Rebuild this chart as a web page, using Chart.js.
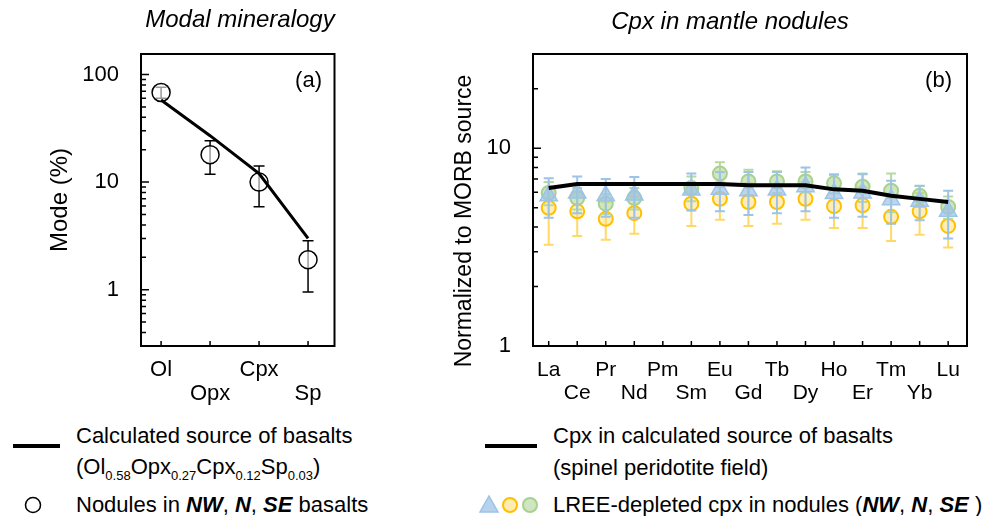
<!DOCTYPE html>
<html>
<head>
<meta charset="utf-8">
<script src="https://cdn.jsdelivr.net/npm/chart.js@4.4.1/dist/chart.umd.min.js"></script>
<style>
  body { margin: 0; background: #fff; }
  #wrap { position: relative; width: 1007px; height: 516px; font-family: "Liberation Sans", Arial, sans-serif; color: #000; }
  canvas { position: absolute; top: 0; }
  .txt { position: absolute; white-space: nowrap; font-size: 22px; line-height: 26px; }
  .title { position: absolute; font-size: 24px; font-style: italic; text-align: center; line-height: 26px; }
  .ytitle { position: absolute; width: 300px; text-align: center; font-size: 23px; line-height: 26px; transform: rotate(-90deg); }
  .sub { font-size: 13px; vertical-align: -6px; }
  .swatch { position: absolute; }
</style>
</head>
<body>
<div id="wrap">
  <canvas id="modeChart" width="345" height="410" style="left:0"></canvas>
  <canvas id="cpxChart" width="607" height="410" style="left:400px"></canvas>

  <div class="title" style="left:90px;top:6px;width:300px">Modal mineralogy</div>
  <div class="title" style="left:580px;top:8px;width:300px">Cpx in mantle nodules</div>
  <div class="ytitle" style="left:313px;top:208px">Normalized to MORB source</div>
  <div class="txt" style="left:262px;top:67px;width:60px;text-align:right">(a)</div>
  <div class="txt" style="left:892px;top:67px;width:60px;text-align:right">(b)</div>

  <!-- legend, left panel -->
  <div class="swatch" style="left:13px;top:444px;width:47px;height:4px;background:#000"></div>
  <div class="txt" style="left:76px;top:423px">Calculated source of basalts</div>
  <div class="txt" style="left:76px;top:454px">(Ol<span class="sub">0.58</span>Opx<span class="sub">0.27</span>Cpx<span class="sub">0.12</span>Sp<span class="sub">0.03</span>)</div>
  <svg class="swatch" style="left:23px;top:495px" width="20" height="20"><circle cx="10" cy="10" r="7.5" fill="#fff" stroke="#000" stroke-width="1.5"/></svg>
  <div class="txt" style="left:76px;top:492px">Nodules in <b><i>NW</i></b>, <b><i>N</i></b>, <b><i>SE</i></b> basalts</div>

  <!-- legend, right panel -->
  <div class="swatch" style="left:485px;top:444px;width:52px;height:4px;background:#000"></div>
  <div class="txt" style="left:553px;top:423px">Cpx in calculated source of basalts</div>
  <div class="txt" style="left:553px;top:455px">(spinel peridotite field)</div>
  <svg class="swatch" style="left:476px;top:494px" width="66" height="22">
    <polygon points="13,2 22,18 4,18" fill="rgba(157,195,230,0.75)" stroke="#9DC3E6" stroke-width="1.5"/>
    <circle cx="34" cy="11" r="7" fill="rgba(255,217,102,0.5)" stroke="#FFC000" stroke-width="2"/>
    <circle cx="54" cy="11" r="7" fill="rgba(169,209,142,0.55)" stroke="#A9D18E" stroke-width="2"/>
  </svg>
  <div class="txt" style="left:553px;top:492px">LREE-depleted cpx in nodules (<b><i>NW</i></b>, <b><i>N</i></b>, <b><i>SE</i></b> )</div>
</div>

<script>
// modal mineralogy (panel a)
const minerals = ['Ol', 'Opx', 'Cpx', 'Sp'];
const sourceMode = [58, 27, 12, 3];
const noduleMode = [68, 18, 10, 1.9];
const noduleSd = [8, 6.2, 4.1, 0.95];
const modeTicks = [0.4, 0.5, 0.6, 0.7, 0.8, 0.9, 1, 2, 3, 4, 5, 6, 7, 8, 9, 10, 20, 30, 40, 50, 60, 70, 80, 90, 100];
const modeLabels = [1, 10, 100];

// REE in cpx, normalized to MORB source (panel b)
const ree = ['La', 'Ce', 'Pr', 'Nd', 'Pm', 'Sm', 'Eu', 'Gd', 'Tb', 'Dy', 'Ho', 'Er', 'Tm', 'Yb', 'Lu'];
const sourceCpx = [6.3, 6.6, 6.6, 6.6, 6.6, 6.6, 6.6, 6.5, 6.5, 6.5, 6.2, 6.1, 5.75, 5.55, 5.35];
const cpxNW = [5.75, 5.95, 5.75, 5.8, null, 6.15, 6.2, 6.1, 6.15, 6.4, 5.9, 5.95, 5.5, 5.4, 4.8];
const cpxNWsd = [1.3, 1.25, 1.25, 1.35, null, 1.3, 1.4, 1.5, 1.45, 1.6, 1.45, 1.45, 1.35, 1.07, 1.3];
const cpxN = [5.0, 4.8, 4.4, 4.7, null, 5.25, 5.55, 5.35, 5.35, 5.55, 5.1, 5.15, 4.5, 4.8, 4.05];
const cpxNsd = [1.75, 1.2, 0.95, 1.0, null, 1.2, 1.2, 1.3, 1.2, 1.2, 1.15, 1.2, 1.1, 1.15, 0.9];
const cpxSE = [5.95, 5.6, 5.25, 5.6, null, 6.3, 7.45, 6.8, 6.8, 6.8, 6.65, 6.4, 6.1, 5.75, 5.05];
const cpxSEsd = [0.8, 0.7, 0.6, 0.7, null, 0.9, 1.05, 1.0, 0.85, 0.8, 0.75, 1.05, 1.35, 0.7, 0.65];
const cpxTicks = [1, 2, 3, 4, 5, 6, 7, 8, 9, 10, 20];
const cpxLabels = [1, 10];

Chart.defaults.font.family = '"Liberation Sans", Arial, sans-serif';
Chart.defaults.color = '#000';

// build {x, y, e} points, skipping missing elements
function points(values, errs) {
  const out = [];
  values.forEach((v, i) => {
    if (v !== null) out.push({ x: i, y: v, e: errs ? errs[i] : 0 });
  });
  return out;
}

// error bars go under each dataset's markers
const errorBars = {
  id: 'errorBars',
  beforeDatasetDraw(chart, args) {
    const ds = chart.data.datasets[args.index];
    if (!ds.errorColor) return;
    const yScale = chart.scales.y;
    const ctx = chart.ctx;
    const cap = ds.capWidth || 5;
    ctx.save();
    ctx.strokeStyle = ds.errorColor;
    ctx.lineWidth = ds.errorWidth || 1.5;
    args.meta.data.forEach((pt, i) => {
      const d = ds.data[i];
      const top = yScale.getPixelForValue(d.y + d.e);
      const bot = yScale.getPixelForValue(d.y - d.e);
      ctx.beginPath();
      ctx.moveTo(pt.x, top);
      ctx.lineTo(pt.x, bot);
      ctx.moveTo(pt.x - cap, top);
      ctx.lineTo(pt.x + cap, top);
      ctx.moveTo(pt.x - cap, bot);
      ctx.lineTo(pt.x + cap, bot);
      ctx.stroke();
    });
    ctx.restore();
  }
};

// closed frame with inward tick marks
const frame = {
  id: 'frame',
  afterDraw(chart) {
    const { ctx, chartArea: a, scales } = chart;
    ctx.save();
    ctx.strokeStyle = '#000';
    ctx.lineWidth = 2;
    ctx.strokeRect(a.left, a.top, a.right - a.left, a.bottom - a.top);
    ctx.lineWidth = 1.5;
    ctx.beginPath();
    scales.y.ticks.forEach(t => {
      const y = scales.y.getPixelForValue(t.value);
      const lg = Math.log10(t.value);
      const len = Math.abs(lg - Math.round(lg)) < 1e-9 ? 8 : 5;
      ctx.moveTo(a.left, y);
      ctx.lineTo(a.left + len, y);
    });
    scales.x.ticks.forEach(t => {
      const x = scales.x.getPixelForValue(t.value);
      ctx.moveTo(x, a.bottom);
      ctx.lineTo(x, a.bottom - 5);
    });
    ctx.stroke();
    ctx.restore();
  }
};

// upper / lower row for alternating category names
function twoRows(names) {
  return (value, index) => index % 2 ? ['', names[index]] : [names[index], ''];
}

new Chart(document.getElementById('modeChart'), {
  type: 'line',
  data: {
    datasets: [
      {
        label: 'Calculated source of basalts',
        data: points(sourceMode),
        borderColor: '#000',
        borderWidth: 3,
        pointRadius: 0,
        order: 0
      },
      {
        label: 'Nodules in NW, N, SE basalts',
        data: points(noduleMode, noduleSd),
        showLine: false,
        pointRadius: 9,
        pointBorderWidth: 1.5,
        pointBorderColor: '#000',
        pointBackgroundColor: 'rgba(255,255,255,0.6)',
        errorColor: '#000',
        capWidth: 5.5,
        order: 1
      }
    ]
  },
  options: {
    responsive: false,
    animation: false,
    layout: { padding: { top: 54, right: 10, left: 0, bottom: 0 } },
    plugins: { legend: { display: false }, tooltip: { enabled: false } },
    scales: {
      x: {
        type: 'linear',
        min: -0.41,
        max: 3.54,
        grid: { display: false },
        border: { display: false },
        afterBuildTicks: s => { s.ticks = minerals.map((m, i) => ({ value: i })); },
        afterFit: s => { s.height = 64; },
        ticks: { autoSkip: false, maxRotation: 0, padding: 4, font: { size: 22, lineHeight: 1.1 }, callback: twoRows(minerals) }
      },
      y: {
        type: 'logarithmic',
        min: 0.31,
        max: 155,
        grid: { display: false },
        border: { display: false },
        afterBuildTicks: s => { s.ticks = modeTicks.map(v => ({ value: v })); },
        afterFit: s => { s.width = 141; },
        ticks: { autoSkip: false, padding: 14, font: { size: 22 }, callback: v => modeLabels.includes(v) ? String(v) : '' },
        title: { display: true, text: 'Mode (%)', font: { size: 24 }, padding: { top: 46, bottom: 0 } }
      }
    }
  },
  plugins: [errorBars, frame]
});

new Chart(document.getElementById('cpxChart'), {
  type: 'line',
  data: {
    datasets: [
      {
        label: 'Cpx in calculated source of basalts',
        data: points(sourceCpx),
        borderColor: '#000',
        borderWidth: 4,
        pointRadius: 0,
        order: 0
      },
      {
        label: 'NW',
        data: points(cpxNW, cpxNWsd),
        showLine: false,
        pointStyle: 'triangle',
        pointRadius: 10,
        pointBorderWidth: 1.5,
        pointBorderColor: '#9DC3E6',
        pointBackgroundColor: 'rgba(157,195,230,0.7)',
        errorColor: '#9DC3E6',
        errorWidth: 2,
        order: 1
      },
      {
        label: 'SE',
        data: points(cpxSE, cpxSEsd),
        showLine: false,
        pointRadius: 7,
        pointBorderWidth: 2,
        pointBorderColor: '#A9D18E',
        pointBackgroundColor: 'rgba(169,209,142,0.55)',
        errorColor: '#B7D9A0',
        errorWidth: 2,
        order: 2
      },
      {
        label: 'N',
        data: points(cpxN, cpxNsd),
        showLine: false,
        pointRadius: 7,
        pointBorderWidth: 2,
        pointBorderColor: '#FFC000',
        pointBackgroundColor: 'rgba(255,217,102,0.45)',
        errorColor: '#FFD966',
        errorWidth: 2,
        order: 3
      }
    ]
  },
  options: {
    responsive: false,
    animation: false,
    layout: { padding: { top: 54, right: 40, left: 0, bottom: 0 } },
    plugins: { legend: { display: false }, tooltip: { enabled: false } },
    scales: {
      x: {
        type: 'linear',
        min: -0.55,
        max: 14.66,
        grid: { display: false },
        border: { display: false },
        afterBuildTicks: s => { s.ticks = ree.map((r, i) => ({ value: i })); },
        afterFit: s => { s.height = 64; },
        ticks: { autoSkip: false, maxRotation: 0, padding: 5, font: { size: 21, lineHeight: 1.1 }, callback: twoRows(ree) }
      },
      y: {
        type: 'logarithmic',
        min: 1,
        max: 30,
        grid: { display: false },
        border: { display: false },
        afterBuildTicks: s => { s.ticks = cpxTicks.map(v => ({ value: v })); },
        afterFit: s => { s.width = 133; },
        ticks: { autoSkip: false, padding: 14, font: { size: 22 }, callback: v => cpxLabels.includes(v) ? String(v) : '' }
      }
    }
  },
  plugins: [errorBars, frame]
});
</script>
</body>
</html>
